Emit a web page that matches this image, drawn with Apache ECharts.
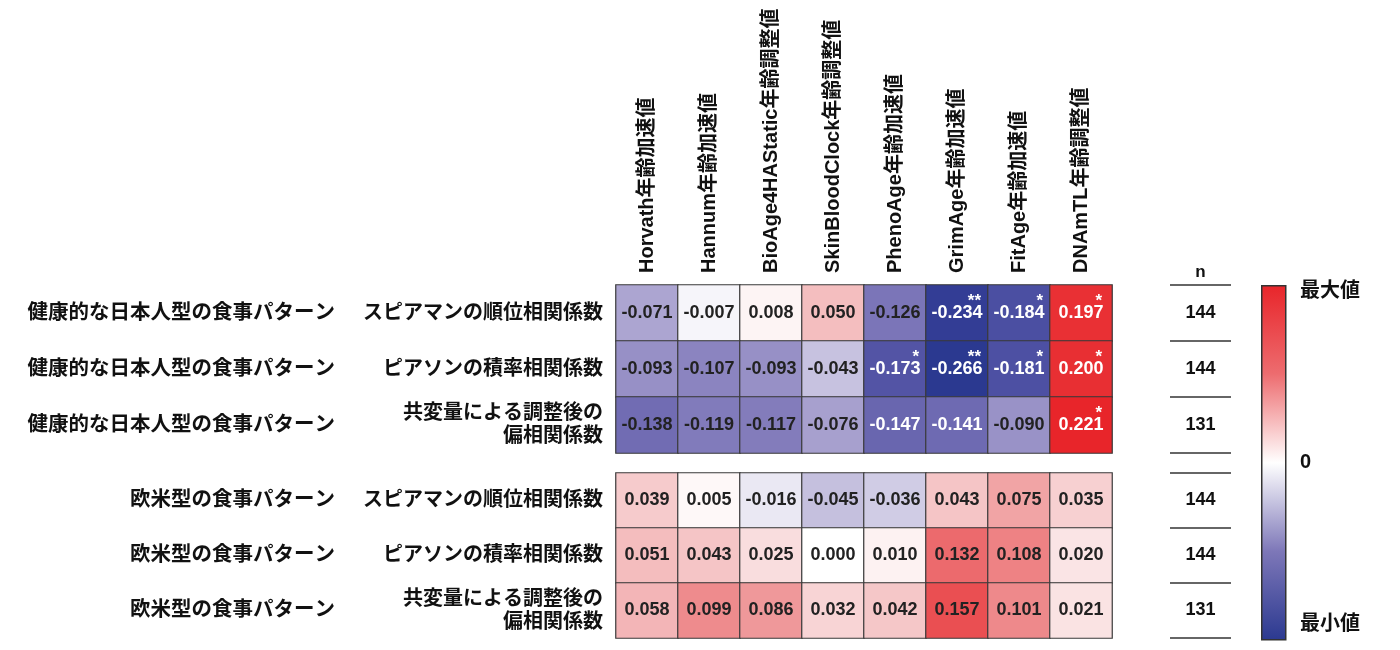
<!DOCTYPE html>
<html><head><meta charset="utf-8">
<script src="https://cdn.jsdelivr.net/npm/echarts@6/dist/echarts.min.js"></script>
<style>html,body{margin:0;padding:0;background:#fff}#c{width:1400px;height:650px}</style>
</head><body><div id="c"></div>
<script>
const columns = ['Horvath年齢加速値', 'Hannum年齢加速値', 'BioAge4HAStatic年齢調整値', 'SkinBloodClock年齢調整値', 'PhenoAge年齢加速値', 'GrimAge年齢加速値', 'FitAge年齢加速値', 'DNAmTL年齢調整値'];
const patternJapanese = '健康的な日本人型の食事パターン';
const patternWestern = '欧米型の食事パターン';
const methods = ['スピアマンの順位相関係数', 'ピアソンの積率相関係数', '共変量による調整後の\n偏相関係数'];
const japaneseValues = [
  [-0.071, -0.007, 0.008, 0.050, -0.126, -0.234, -0.184, 0.197],
  [-0.093, -0.107, -0.093, -0.043, -0.173, -0.266, -0.181, 0.200],
  [-0.138, -0.119, -0.117, -0.076, -0.147, -0.141, -0.090, 0.221]
];
const westernValues = [
  [0.039, 0.005, -0.016, -0.045, -0.036, 0.043, 0.075, 0.035],
  [0.051, 0.043, 0.025, 0.000, 0.010, 0.132, 0.108, 0.020],
  [0.058, 0.099, 0.086, 0.032, 0.042, 0.157, 0.101, 0.021]
];
const japaneseStars = [
  ['', '', '', '', '', '**', '*', '*'],
  ['', '', '', '', '*', '**', '*', '*'],
  ['', '', '', '', '', '', '', '*']
];
const westernStars = [
  ['', '', '', '', '', '', '', ''],
  ['', '', '', '', '', '', '', ''],
  ['', '', '', '', '', '', '', '']
];
const japaneseN = [144, 144, 131];
const westernN = [144, 144, 131];
const nHeader = 'n';
const colorbarLabels = ['最大値', '0', '最小値'];

const FONT = "'Liberation Sans', 'Noto Sans CJK JP', sans-serif";
const TXT = '#111';

function cells(values) {
  const out = [];
  values.forEach((row, r) => row.forEach((v, c) => {
    const white = v <= -0.14 || v >= 0.19;
    out.push({ value: [c, r, v], label: { color: white ? '#fff' : '#222' } });
  }));
  return out;
}
function stars(values, marks) {
  const out = [];
  marks.forEach((row, r) => row.forEach((s, c) => {
    if (!s) return;
    const v = values[r][c];
    out.push({ value: [c, r, s], label: { offset: [v < 0 ? 24 : 21, -12] } });
  }));
  return out;
}
function nData(ns) { return ns.map((n, r) => [0, r, n]); }

const chart = echarts.init(document.getElementById('c'), null, { renderer: 'canvas' });

const gridTop = { left: 616, top: 285, width: 496, height: 168 };
const gridBot = { left: 616, top: 473, width: 496, height: 165 };
const nTop = { left: 1170, top: 285, width: 61, height: 168 };
const nBot = { left: 1170, top: 473, width: 61, height: 165 };

const rowLabel = { fontFamily: FONT, fontWeight: 'bold', fontSize: 20, color: TXT, lineHeight: 23, margin: 13 };

function methodAxis(gi) {
  return { type: 'category', gridIndex: gi, data: methods, inverse: true, axisLine: { show: false }, axisTick: { show: false },
    axisLabel: rowLabel };
}
function patternAxis(gi, name) {
  return { type: 'category', gridIndex: gi, data: methods, inverse: true, position: 'left', offset: 268,
    axisLine: { show: false }, axisTick: { show: false },
    axisLabel: Object.assign({}, rowLabel, { fontSize: 20.5, formatter: () => name }) };
}
function nAxisY(gi) {
  return { type: 'category', gridIndex: gi, data: methods, inverse: true, axisLine: { show: false }, axisTick: { show: false },
    axisLabel: { show: false }, splitLine: { show: true, lineStyle: { color: '#333', width: 1.5 } } };
}

const option = {
  backgroundColor: '#fff',
  animation: false,
  grid: [gridTop, gridBot, nTop, nBot],
  xAxis: [
    { type: 'category', gridIndex: 0, data: columns, position: 'top', axisLine: { show: false }, axisTick: { show: false },
      axisLabel: { rotate: -90, margin: 12, interval: 0, fontFamily: FONT, fontWeight: 'bold', fontSize: 20, color: TXT } },
    { type: 'category', gridIndex: 1, data: columns, show: false },
    { type: 'category', gridIndex: 2, data: [nHeader], position: 'top', axisLine: { show: false }, axisTick: { show: false },
      axisLabel: { margin: 4, fontFamily: FONT, fontWeight: 'bold', fontSize: 17, color: TXT } },
    { type: 'category', gridIndex: 3, data: [nHeader], show: false }
  ],
  yAxis: [
    methodAxis(0), patternAxis(0, patternJapanese),
    methodAxis(1), patternAxis(1, patternWestern),
    nAxisY(2), nAxisY(3)
  ],
  visualMap: {
    type: 'continuous', show: false, min: -0.264, max: 0.22, seriesIndex: [0, 1], dimension: 2,
    inRange: { color: ['#2b3990', '#363f98', '#5052a4', '#7670b5', '#9b94c8', '#c6c1df', '#ffffff',
                       '#f5c4c5', '#ef9698', '#ec6a6d', '#e93a3e', '#e8252a'] }
  },
  series: [
    { type: 'heatmap', xAxisIndex: 0, yAxisIndex: 0, data: cells(japaneseValues),
      itemStyle: { borderColor: '#3a3a3a', borderWidth: 1.2 },
      label: { show: true, formatter: p => p.value[2].toFixed(3), fontFamily: FONT, fontWeight: 'bold', fontSize: 18 } },
    { type: 'heatmap', xAxisIndex: 1, yAxisIndex: 2, data: cells(westernValues),
      itemStyle: { borderColor: '#3a3a3a', borderWidth: 1.2 },
      label: { show: true, formatter: p => p.value[2].toFixed(3), fontFamily: FONT, fontWeight: 'bold', fontSize: 18 } },
    { type: 'scatter', xAxisIndex: 0, yAxisIndex: 0, symbolSize: 0, data: stars(japaneseValues, japaneseStars), z: 5,
      itemStyle: { opacity: 1 },
      label: { show: true, position: 'inside', align: 'right', formatter: p => p.value[2], color: '#fff', fontFamily: FONT, fontWeight: 'bold', fontSize: 17 } },
    { type: 'scatter', xAxisIndex: 1, yAxisIndex: 2, symbolSize: 0, data: stars(westernValues, westernStars), z: 5,
      itemStyle: { opacity: 1 },
      label: { show: true, position: 'inside', align: 'right', formatter: p => p.value[2], color: '#fff', fontFamily: FONT, fontWeight: 'bold', fontSize: 17 } },
    { type: 'scatter', xAxisIndex: 2, yAxisIndex: 4, symbolSize: 0, data: nData(japaneseN),
      itemStyle: { opacity: 1 },
      label: { show: true, position: 'inside', formatter: p => p.value[2], color: TXT, fontFamily: FONT, fontWeight: 'bold', fontSize: 18 } },
    { type: 'scatter', xAxisIndex: 3, yAxisIndex: 5, symbolSize: 0, data: nData(westernN),
      itemStyle: { opacity: 1 },
      label: { show: true, position: 'inside', formatter: p => p.value[2], color: TXT, fontFamily: FONT, fontWeight: 'bold', fontSize: 18 } }
  ],
  graphic: [
    { type: 'rect', left: 1261, top: 285, shape: { width: 24, height: 354 }, z: 10,
      style: { fill: new echarts.graphic.LinearGradient(0, 0, 0, 1, [
        { offset: 0, color: '#e8252a' }, { offset: 0.25, color: '#ed6c6f' }, { offset: 0.5, color: '#ffffff' },
        { offset: 0.75, color: '#7d77b8' }, { offset: 1, color: '#2b3990' }]), stroke: '#333', lineWidth: 1.5 } },
    { type: 'text', left: 1300, top: 281, z: 10, style: { text: colorbarLabels[0], font: "bold 20px " + FONT, fill: TXT } },
    { type: 'text', left: 1300, top: 452, z: 10, style: { text: colorbarLabels[1], font: "bold 20px " + FONT, fill: TXT } },
    { type: 'text', left: 1300, top: 614, z: 10, style: { text: colorbarLabels[2], font: "bold 20px " + FONT, fill: TXT } }
  ]
};
chart.setOption(option);
</script>
</body></html>
